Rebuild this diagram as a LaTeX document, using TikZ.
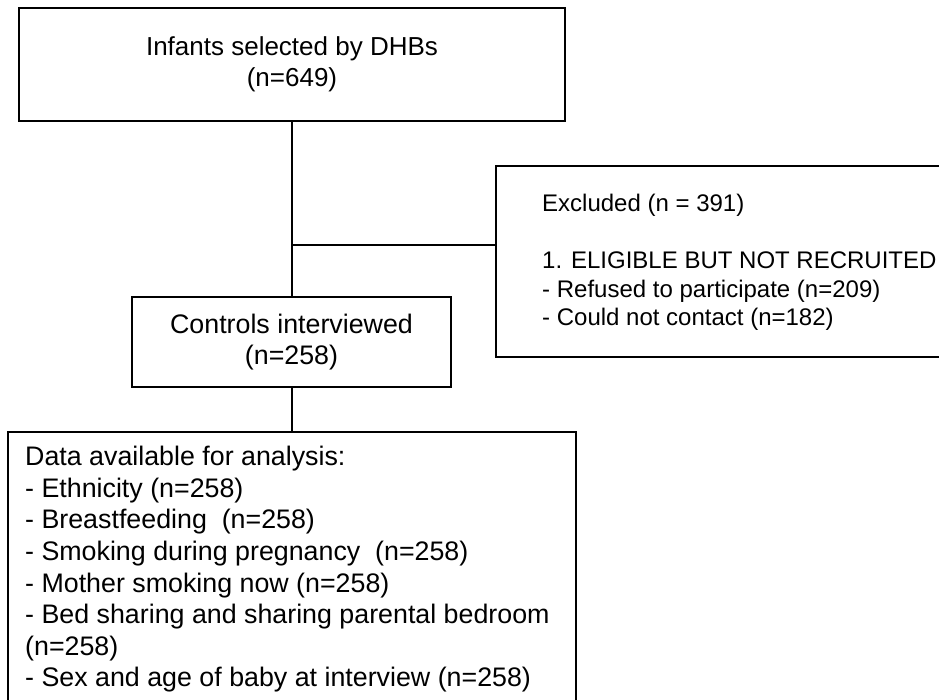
\documentclass[tikz,border=0pt]{standalone}
\usepackage{fontspec}
\setmainfont{Liberation Sans}
\begin{document}
\begin{tikzpicture}[x=1pt,y=1pt,
  box/.style={draw=black, line width=1.5pt, inner sep=0pt, align=center},
  bigtext/.style={font={\fontsize{26}{31.5}\selectfont}},
  midtext/.style={font={\fontsize{26.8}{31.6}\selectfont}},
  smalltext/.style={font={\fontsize{24}{28.5}\selectfont}},
  link/.style={draw=black, line width=1.5pt}]
\clip (0,0) rectangle (939,-700);
\useasboundingbox (0,0) rectangle (939,-700);
% boxes
\node[box, bigtext, minimum width=546pt, minimum height=113pt] (top) at (292,-64.5)
  {Infants selected by DHBs\\(n=649)};
\node[box, midtext, minimum width=319pt, minimum height=90pt] (ctrl) at (291.5,-342)
  {Controls interviewed\\(n=258)};
\node[box, minimum width=474pt, minimum height=191pt] (exc) at (733,-261.5) {};
\node[smalltext, anchor=west, align=left, inner sep=0pt] (exct) at (542,-262.5)
  {Excluded (n = 391)\\[28.5pt]1. ELIGIBLE BUT NOT RECRUITED\\- Refused to participate (n=209)\\- Could not contact (n=182)};
\node[box, minimum width=568pt, minimum height=288pt] (data) at (292,-576) {};
\node[midtext, anchor=north west, align=left, inner sep=0pt] (datat) at (25,-446)
  {Data available for analysis:\\- Ethnicity (n=258)\\- Breastfeeding\ \ (n=258)\\- Smoking during pregnancy\ \ (n=258)\\- Mother smoking now (n=258)\\- Bed sharing and sharing parental bedroom\\(n=258)\\- Sex and age of baby at interview (n=258)};
% connectors
\draw[link] (top.south) -- (top.south |- ctrl.north);
\coordinate (jn) at (292,-245);
\draw[link] (jn) -- (jn -| exc.west);
\draw[link] (ctrl.south -| top.south) -- (data.north -| top.south);
\end{tikzpicture}
\end{document}
